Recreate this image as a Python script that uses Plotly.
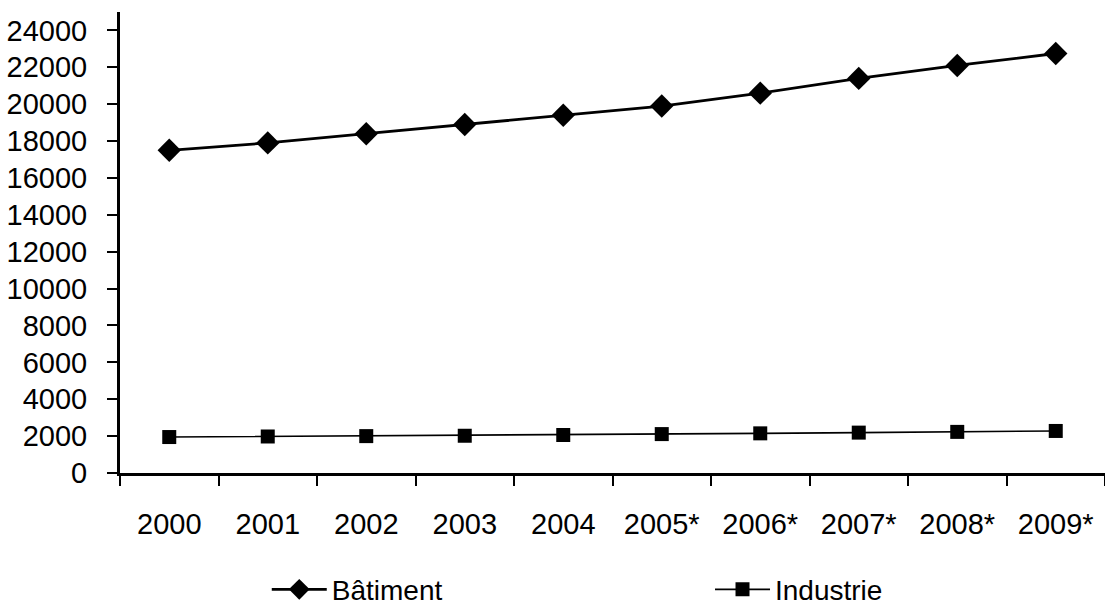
import plotly.graph_objects as go

years = ["2000", "2001", "2002", "2003", "2004",
         "2005*", "2006*", "2007*", "2008*", "2009*"]
batiment = [17500, 17900, 18400, 18900, 19400, 19900, 20600, 21400, 22100, 22750]
industrie = [1950, 1980, 2000, 2020, 2060, 2110, 2150, 2190, 2230, 2280]

y_ticks = list(range(0, 24001, 2000))

font_family = "Liberation Sans, Arial, sans-serif"

fig = go.Figure()
fig.add_trace(go.Scatter(
    x=years, y=batiment, name="Bâtiment", mode="lines+markers",
    line=dict(color="black", width=2.8),
    marker=dict(symbol="diamond", size=18, color="black"),
    legend="legend",
))
fig.add_trace(go.Scatter(
    x=years, y=industrie, name="Industrie", mode="lines+markers",
    line=dict(color="black", width=1.6),
    marker=dict(symbol="square", size=14, color="black"),
    legend="legend2",
))

legend_style = dict(
    orientation="h", xanchor="left", yanchor="middle", y=-0.253,
    font=dict(family=font_family, size=28), itemwidth=55,
    bgcolor="rgba(0,0,0,0)",
)

fig.update_layout(
    width=1105, height=615,
    margin=dict(l=120, r=0, t=12, b=142),
    paper_bgcolor="white", plot_bgcolor="white",
    font=dict(family=font_family, color="black", size=29),
    showlegend=True,
    legend=dict(x=0.149, **legend_style),
    legend2=dict(x=0.599, **legend_style),
    xaxis=dict(
        type="category", range=[-0.5, 9.5],
        showline=True, linecolor="black", linewidth=3,
        ticks="outside", tickson="boundaries", ticklen=10, tickwidth=2,
        tickcolor="black", showgrid=False, zeroline=False,
        tickfont=dict(size=29), ticklabelstandoff=23,
    ),
    yaxis=dict(
        range=[0, 25000], tickvals=y_ticks,
        ticktext=[str(v) for v in y_ticks],
        showline=True, linecolor="black", linewidth=3,
        ticks="outside", ticklen=10, tickwidth=2, tickcolor="black",
        showgrid=False, zeroline=False,
        tickfont=dict(size=29), ticklabelstandoff=14,
    ),
)

fig.write_html("out.html")
